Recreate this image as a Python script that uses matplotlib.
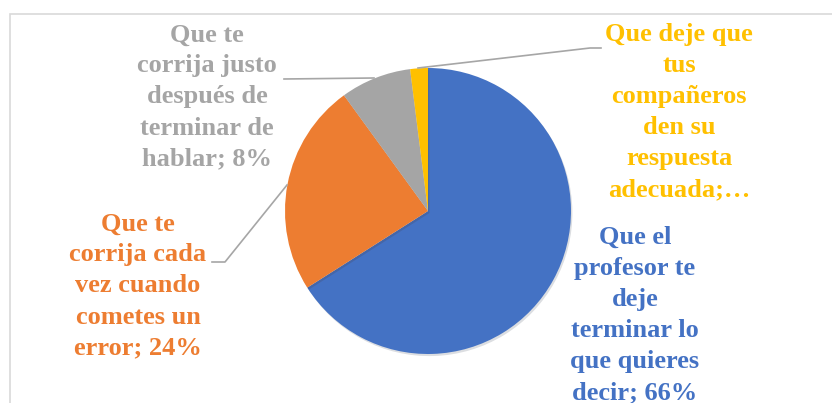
import matplotlib.pyplot as plt
import matplotlib.patheffects as pe
from matplotlib.patches import Rectangle

plt.rcParams["font.family"] = "serif"
plt.rcParams["font.serif"] = ["Liberation Serif", "DejaVu Serif"]

# data
categories = [
    "Que el\nprofesor te\ndeje\nterminar lo\nque quieres\ndecir",
    "Que te\ncorrija cada\nvez cuando\ncometes un\nerror",
    "Que te\ncorrija justo\ndespués de\nterminar de\nhablar",
    "Que deje que\ntus\ncompañeros\nden su\nrespuesta\nadecuada",
]
values = [66, 24, 8, 2]
colors = ["#4472C4", "#ED7D31", "#A5A5A5", "#FFC000"]

W, H = 832, 403
fig = plt.figure(figsize=(W / 100, H / 100), dpi=100)
ax = fig.add_axes([0, 0, 1, 1])

# chart frame (cut off at right and bottom)
fig.patches.append(Rectangle((10 / W, -0.1), 1.0, (H - 14) / H + 0.1,
                             transform=fig.transFigure, fill=False,
                             edgecolor="#D9D9D9", linewidth=1.2))

cx, cy, r = 428, H - 211, 143
wedges, _ = ax.pie(values, colors=colors, startangle=90, counterclock=False,
                   center=(cx, cy), radius=r,
                   wedgeprops=dict(linewidth=0))
for w in wedges:
    w.set_path_effects([pe.SimplePatchShadow(offset=(1, -1.5), alpha=0.15),
                        pe.Normal()])

ax.set_xlim(0, W)
ax.set_ylim(0, H)
ax.set_aspect("equal")
ax.axis("off")

# label positions (center x, center y in image pixels)
label_pos = [(635, 315), (138, 286), (207, 97), (679, 112)]
for name, v, c, (lx, ly) in zip(categories, values, colors, label_pos):
    if v < 5:
        txt = name + ";…"
    else:
        txt = f"{name}; {v}%"
    ax.text(lx, H - ly, txt, color=c, ha="center", va="center",
            fontsize=19, fontweight="bold",
            linespacing=1.45, multialignment="center")

# leader lines
lc = "#A6A6A6"
ax.plot([284, 374], [H - 79, H - 78], color=lc, lw=1.2)
ax.plot([418, 590, 601], [H - 68, H - 48, H - 48], color=lc, lw=1.2)
ax.plot([212, 225, 287], [H - 262, H - 262, H - 185], color=lc, lw=1.2)

fig.savefig("out.png", dpi=100)
